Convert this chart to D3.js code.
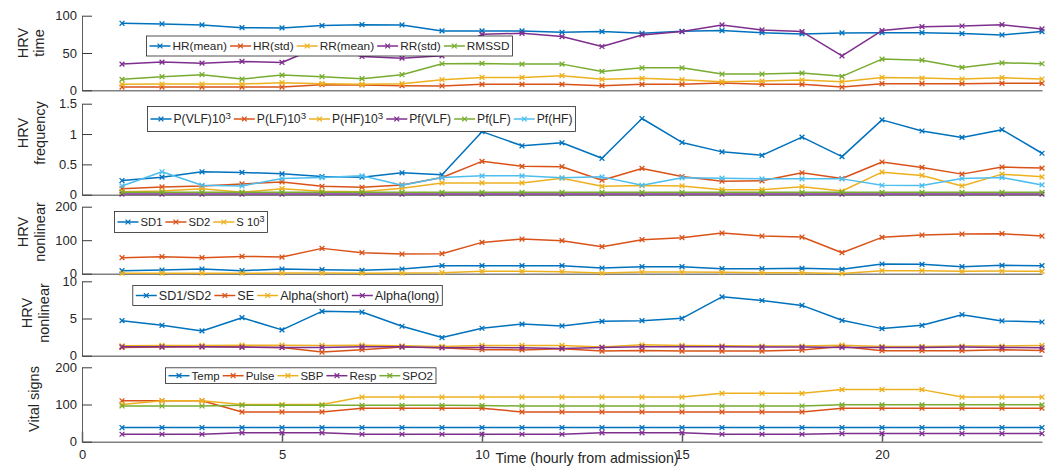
<!DOCTYPE html>
<html>
<head>
<meta charset="utf-8">
<script src="https://cdn.jsdelivr.net/npm/d3@7"></script>
<style>
  body { margin: 0; background: #fff; }
  svg { display: block; }
  text { font-family: "Liberation Sans", Arial, Helvetica, sans-serif; fill: #262626; }
</style>
</head>
<body>
<svg id="chart" width="1062" height="467"></svg>
<script>
// Hours since admission (x values shared by every panel)
const hours = [1, 2, 3, 4, 5, 6, 7, 8, 9, 10, 11, 12, 13, 14, 15, 16, 17, 18, 19, 20, 21, 22, 23, 24];
const xTicks = [0, 5, 10, 15, 20];

// HRV time-domain measures
const timeNames = ["HR(mean)", "HR(std)", "RR(mean)", "RR(std)", "RMSSD"];
const hrMean = [89.8, 88.9, 87.6, 84.0, 83.6, 86.7, 88.0, 87.6, 79.6, 79.6, 79.6, 77.8, 78.7, 76.4, 79.0, 80.0, 77.3, 75.6, 76.9, 77.3, 77.3, 76.0, 74.2, 78.7];
const hrStd = [4.4, 4.4, 4.4, 4.4, 4.4, 7.6, 7.1, 6.2, 5.8, 8.0, 8.0, 8.0, 6.2, 8.0, 8.0, 9.8, 8.0, 8.0, 4.4, 8.9, 8.9, 8.9, 9.3, 9.3];
const rrMean = [8.0, 8.4, 8.4, 8.4, 10.2, 8.9, 8.0, 8.9, 14.2, 17.3, 17.3, 19.6, 14.7, 16.0, 14.2, 11.6, 12.4, 13.8, 11.6, 17.3, 16.4, 15.1, 16.9, 15.1];
const rrStd = [35.1, 37.8, 36.4, 38.7, 37.3, 60.0, 45.3, 43.1, 46.2, 75.0, 76.4, 72.0, 58.7, 74.2, 78.7, 87.6, 80.9, 78.7, 46.2, 80.0, 85.3, 86.2, 88.0, 82.2];
const rmssd = [14.7, 18.2, 20.9, 15.1, 20.4, 18.2, 15.6, 20.9, 35.6, 36.0, 35.1, 35.1, 25.3, 30.2, 30.2, 21.8, 21.8, 23.1, 18.7, 41.8, 40.4, 30.7, 36.9, 35.6];

// HRV frequency-domain measures
const freqNames = ["P(VLF)10^3", "P(LF)10^3", "P(HF)10^3", "Pf(VLF)", "Pf(LF)", "Pf(HF)"];
const pVLF = [0.233, 0.289, 0.378, 0.367, 0.344, 0.300, 0.289, 0.361, 0.328, 1.039, 0.806, 0.856, 0.600, 1.256, 0.861, 0.706, 0.650, 0.950, 0.628, 1.233, 1.050, 0.944, 1.072, 0.683];
const pLF = [0.100, 0.128, 0.144, 0.178, 0.211, 0.139, 0.122, 0.161, 0.283, 0.550, 0.467, 0.461, 0.239, 0.433, 0.300, 0.222, 0.228, 0.361, 0.267, 0.539, 0.450, 0.339, 0.456, 0.439];
const pHF = [0.050, 0.061, 0.100, 0.039, 0.100, 0.056, 0.050, 0.106, 0.194, 0.194, 0.194, 0.272, 0.139, 0.150, 0.144, 0.083, 0.083, 0.133, 0.061, 0.372, 0.317, 0.144, 0.339, 0.294];
const pfVLF = [0.01, 0.01, 0.01, 0.01, 0.01, 0.01, 0.01, 0.01, 0.01, 0.01, 0.01, 0.01, 0.01, 0.01, 0.01, 0.01, 0.01, 0.01, 0.01, 0.01, 0.01, 0.01, 0.01, 0.01];
const pfLF = [0.04, 0.04, 0.04, 0.04, 0.04, 0.04, 0.04, 0.04, 0.04, 0.04, 0.04, 0.04, 0.04, 0.04, 0.04, 0.04, 0.04, 0.04, 0.04, 0.04, 0.04, 0.04, 0.04, 0.04];
const pfHF = [0.144, 0.378, 0.156, 0.144, 0.267, 0.283, 0.311, 0.156, 0.283, 0.311, 0.311, 0.278, 0.294, 0.156, 0.278, 0.272, 0.261, 0.261, 0.261, 0.156, 0.150, 0.267, 0.283, 0.161];

// HRV nonlinear measures (Poincare)
const poincareNames = ["SD1", "SD2", "S 10^3"];
const sd1 = [9, 11, 14, 9, 14, 12, 10, 14, 24, 24, 24, 24, 17, 21, 21, 15, 15, 16, 13, 29, 28, 21, 25, 24];
const sd2 = [47.8, 50.7, 47.8, 51.7, 49.8, 75.6, 62.7, 58.7, 59.7, 93.5, 103.5, 98.5, 80.6, 101.5, 107.5, 121.4, 112.4, 109.5, 62.7, 108.5, 115.4, 118.4, 119.4, 112.4];
const sArea = [1.5, 1.5, 1.5, 1.5, 2, 2, 1.5, 2, 3, 7, 7, 6, 2, 5, 5, 4, 3, 3, 0.5, 9, 9, 7, 8, 7];

// HRV nonlinear measures (ratios, entropy, DFA)
const ratioNames = ["SD1/SD2", "SE", "Alpha(short)", "Alpha(long)"];
const sdRatio = [4.71, 4.09, 3.33, 5.11, 3.47, 5.96, 5.87, 3.96, 2.44, 3.69, 4.25, 4.00, 4.62, 4.71, 5.02, 7.91, 7.42, 6.76, 4.76, 3.64, 4.09, 5.51, 4.67, 4.53];
const sampEn = [1.11, 1.16, 1.20, 1.16, 1.11, 0.49, 0.80, 1.16, 1.07, 0.80, 0.78, 0.93, 0.62, 0.71, 0.62, 0.62, 0.62, 0.76, 1.24, 0.67, 0.67, 0.67, 0.80, 0.71];
const alphaShort = [1.33, 1.38, 1.38, 1.42, 1.42, 1.38, 1.42, 1.33, 1.24, 1.38, 1.38, 1.38, 1.16, 1.47, 1.38, 1.33, 1.29, 1.29, 1.42, 1.24, 1.24, 1.29, 1.29, 1.38];
const alphaLong = [1.20, 1.20, 1.20, 1.16, 1.11, 1.11, 1.20, 1.20, 1.07, 1.11, 1.07, 0.98, 1.11, 1.20, 1.20, 1.20, 1.16, 1.16, 1.11, 1.11, 1.11, 1.16, 1.11, 1.07];

// Vital signs
const vitalNames = ["Temp", "Pulse", "SBP", "Resp", "SPO2"];
const temp = [38, 38, 38, 38, 38, 38, 38, 38, 38, 38, 38, 38, 38, 38, 38, 38, 38, 38, 38, 38, 38, 38, 38, 38];
const pulse = [110, 110, 110, 80, 80, 80, 90, 90, 90, 90, 80, 80, 80, 80, 80, 80, 80, 80, 90, 90, 90, 90, 90, 90];
const sbp = [100, 110, 110, 100, 100, 100, 120, 120, 120, 120, 120, 120, 120, 120, 120, 130, 130, 130, 140, 140, 140, 120, 120, 120];
const resp = [20, 20, 20, 24, 24, 24, 20, 20, 20, 20, 20, 20, 24, 24, 24, 20, 20, 20, 22, 22, 22, 22, 22, 22];
const spo2 = [96, 96, 96, 98, 98, 98, 98, 98, 98, 97, 96, 96, 96, 96, 96, 96, 96, 96, 99, 99, 99, 99, 99, 99];

const palette = ["#0072BD", "#D95319", "#EDB120", "#7E2F8E", "#77AC30", "#4DBEEE"];

const panels = [
  { top: 15.7, bottom: 90.3, domain: [0, 100], ticks: [0, 50, 100],
    names: timeNames, series: [hrMean, hrStd, rrMean, rrStd, rmssd],
    label: ["HRV", "time"], labelX: [22.5, 39], labelY: 43,
    legend: { x: 146.5, y: 36, w: 366, h: 20 } },
  { top: 103.7, bottom: 194.7, domain: [0, 1.5], ticks: [0, 0.5, 1, 1.5],
    names: freqNames, series: [pVLF, pLF, pHF, pfVLF, pfLF, pfHF],
    label: ["HRV", "frequency"], labelX: [23, 40], labelY: 133,
    legend: { x: 147.5, y: 106.5, w: 428, h: 25 } },
  { top: 206.7, bottom: 273.7, domain: [0, 200], ticks: [0, 100, 200],
    names: poincareNames, series: [sd1, sd2, sArea],
    label: ["HRV", "nonlinear"], labelX: [23, 40], labelY: 232,
    legend: { x: 114.5, y: 211.5, w: 153, h: 21 } },
  { top: 281.3, bottom: 355.7, domain: [0, 10], ticks: [0, 5, 10],
    names: ratioNames, series: [sdRatio, sampEn, alphaShort, alphaLong],
    label: ["HRV", "nonlinear"], labelX: [26.5, 44], labelY: 313,
    legend: { x: 132.8, y: 285.5, w: 309.5, h: 20 } },
  { top: 367.3, bottom: 441.7, domain: [0, 200], ticks: [0, 100, 200],
    names: vitalNames, series: [temp, pulse, sbp, resp, spo2],
    label: ["Vital signs"], labelX: [33.5], labelY: 399,
    legend: { x: 165.5, y: 367.8, w: 270.5, h: 15.8 }, xAxis: true }
];

const svg = d3.select("#chart");
const x = d3.scaleLinear().domain([0, 24]).range([82, 1042]);
const markerPath = "M-2.4,-2.4L2.4,2.4M-2.4,2.4L2.4,-2.4";

// Writes a legend label, turning "^n" into a superscript
function writeLabel(textSel, name) {
  const parts = name.split("^");
  textSel.append("tspan").text(parts[0]);
  if (parts.length > 1) {
    textSel.append("tspan").attr("dy", "-0.5em").attr("font-size", "80%").text(parts[1]);
  }
}

panels.forEach(p => {
  const y = d3.scaleLinear().domain(p.domain).range([p.bottom, p.top]);
  const g = svg.append("g");

  // x axis line (tick marks only on the bottom panel)
  const xAxis = d3.axisBottom(x).tickSizeOuter(0);
  if (p.xAxis) {
    xAxis.tickValues(xTicks).tickSizeInner(-10).tickPadding(8).tickFormat(d3.format("d"));
  } else {
    xAxis.tickValues([]);
  }
  const gx = g.append("g").attr("transform", `translate(0,${p.bottom})`).call(xAxis);
  gx.select(".domain").attr("stroke", "#808080").attr("stroke-width", 1.5);
  gx.selectAll(".tick line").attr("stroke", "#5a5a5a").attr("stroke-width", 1.5);
  gx.selectAll(".tick text").attr("font-size", 13).attr("font-family", null).attr("fill", "#262626");

  // y axis with inward ticks
  const yAxis = d3.axisLeft(y).tickValues(p.ticks).tickFormat(d3.format("~g"))
    .tickSizeInner(-10).tickSizeOuter(0).tickPadding(5);
  const gy = g.append("g").attr("transform", `translate(${x(0)},0)`).call(yAxis);
  gy.select(".domain").attr("stroke", "#5f5f5f").attr("stroke-width", 1);
  gy.selectAll(".tick line").attr("stroke", "#3a3a3a").attr("stroke-width", 1);
  gy.selectAll(".tick text").attr("font-size", 13).attr("font-family", null).attr("fill", "#262626");

  // y label (rotated, one or two lines)
  p.label.forEach((t, i) => {
    g.append("text")
      .attr("transform", `translate(${p.labelX[i] + 5},${p.labelY}) rotate(-90)`)
      .attr("text-anchor", "middle")
      .attr("font-size", 14.5)
      .text(t);
  });

  // series lines with x markers
  const line = d3.line().x((d, i) => x(hours[i])).y(d => y(d));
  p.series.forEach((vals, k) => {
    const c = palette[k];
    const sg = g.append("g");
    sg.append("path").attr("d", line(vals)).attr("fill", "none")
      .attr("stroke", c).attr("stroke-width", 1.5).attr("stroke-linejoin", "round");
    sg.selectAll("path.mk").data(vals).join("path").attr("class", "mk")
      .attr("transform", (d, i) => `translate(${x(hours[i])},${y(d)})`)
      .attr("d", markerPath).attr("fill", "none").attr("stroke", c).attr("stroke-width", 1.3);
  });

  // legend box, sized so its entries fill the given width
  const L = p.legend;
  const lg = g.append("g");
  lg.append("rect").attr("x", L.x).attr("y", L.y).attr("width", L.w).attr("height", L.h)
    .attr("fill", "#fff").attr("stroke", "#262626").attr("stroke-width", 0.8);
  const sample = 21, gap = 2, spacing = 3, padL = 3, padR = 3;
  const probe = lg.append("text").attr("font-size", 100);
  const widths = p.names.map(n => {
    probe.selectAll("*").remove();
    writeLabel(probe, n);
    return probe.node().getComputedTextLength() / 100;
  });
  probe.remove();
  const fixed = padL + padR + p.names.length * (sample + gap) + (p.names.length - 1) * spacing;
  const fs = (L.w - fixed) / d3.sum(widths);
  let cx = L.x + padL;
  const cy = L.y + L.h / 2;
  p.names.forEach((n, k) => {
    const c = palette[k];
    lg.append("line").attr("x1", cx).attr("x2", cx + sample).attr("y1", cy).attr("y2", cy)
      .attr("stroke", c).attr("stroke-width", 1.5);
    lg.append("path").attr("transform", `translate(${cx + sample / 2},${cy})`)
      .attr("d", markerPath).attr("fill", "none").attr("stroke", c).attr("stroke-width", 1.3);
    const t = lg.append("text").attr("x", cx + sample + gap).attr("y", cy + 0.36 * fs)
      .attr("font-size", fs);
    writeLabel(t, n);
    cx += sample + gap + widths[k] * fs + spacing;
  });
});

// x axis title
svg.append("text").attr("x", 587).attr("y", 463).attr("text-anchor", "middle")
  .attr("font-size", 14.2).text("Time (hourly from admission)");
</script>
</body>
</html>
